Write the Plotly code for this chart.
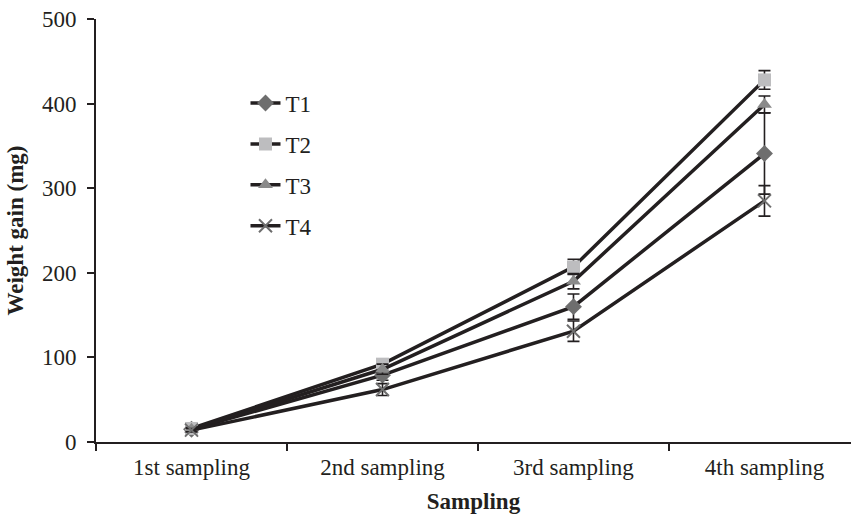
import plotly.graph_objects as go

categories = ["1st sampling", "2nd sampling", "3rd sampling", "4th sampling"]
series_names = ["T1", "T2", "T3", "T4"]
t1 = [15, 79, 160, 341]
t2 = [16, 92, 207, 428]
t3 = [15, 86, 190, 399]
t4 = [14, 62, 131, 285]
t1_err = [2, 6, 15, 48]
t2_err = [2, 6, 9, 11]
t3_err = [2, 6, 9, 10]
t4_err = [2, 7, 12, 18]
y_ticks = [0, 100, 200, 300, 400, 500]

values = [t1, t2, t3, t4]
errors = [t1_err, t2_err, t3_err, t4_err]
symbols = ["diamond", "square", "triangle-up", "x-thin-open"]
mcolors = ["#6e6e6e", "#bdbdbf", "#8a8a8a", "#6e6e6e"]
msizes = [13, 13, 13, 13]

ink = "#231f20"
font = "Liberation Serif, Times New Roman, serif"
fs = 23
xpos = list(range(len(categories)))

fig = go.Figure()
for name, v, e, sym, mc, ms in zip(series_names, values, errors, symbols, mcolors, msizes):
    marker = dict(symbol=sym, size=ms, color=mc, line=dict(width=0))
    if sym == "x-thin-open":
        marker = dict(symbol=sym, size=ms, color=mc, line=dict(width=2, color=mc))
    fig.add_trace(go.Scatter(
        x=xpos, y=v, name=name, mode="lines+markers", legendgroup=name,
        line=dict(color=ink, width=3.5),
        marker=marker,
        error_y=dict(type="data", array=e, visible=True, color=ink, thickness=1.6, width=6),
    ))

fig.update_layout(
    width=851, height=517,
    margin=dict(l=96, r=0, t=19, b=75),
    paper_bgcolor="white", plot_bgcolor="white",
    font=dict(family=font, size=fs, color=ink),
    showlegend=True,
    legend=dict(x=0.198, y=0.852, xanchor="left", yanchor="top",
                bgcolor="rgba(0,0,0,0)", tracegroupgap=8,
                font=dict(family=font, size=fs, color=ink)),
)
fig.update_xaxes(
    range=[-0.5, 3.453], tickmode="array", tickvals=xpos, ticktext=categories,
    ticks="", showline=True, linecolor=ink, linewidth=2, showgrid=False, zeroline=False,
    minor=dict(tickmode="array", tickvals=[-0.5, 0.5, 1.5, 2.5], ticks="outside",
               ticklen=7, tickwidth=2, tickcolor=ink, showgrid=False),
    ticklabelstandoff=3,
    tickfont=dict(family=font, size=fs, color=ink),
    title=dict(text="<b>Sampling</b>", font=dict(family=font, size=fs, color=ink), standoff=14),
)
fig.update_yaxes(
    range=[0, 500], tickmode="array", tickvals=y_ticks,
    ticks="outside", ticklen=7, tickwidth=2, tickcolor=ink,
    showline=True, linecolor=ink, linewidth=2, showgrid=False, zeroline=False,
    ticklabelstandoff=6,
    tickfont=dict(family=font, size=fs, color=ink),
    title=dict(text="<b>Weight gain (mg)</b>", font=dict(family=font, size=fs, color=ink), standoff=12),
)

fig.write_html("out.html")
